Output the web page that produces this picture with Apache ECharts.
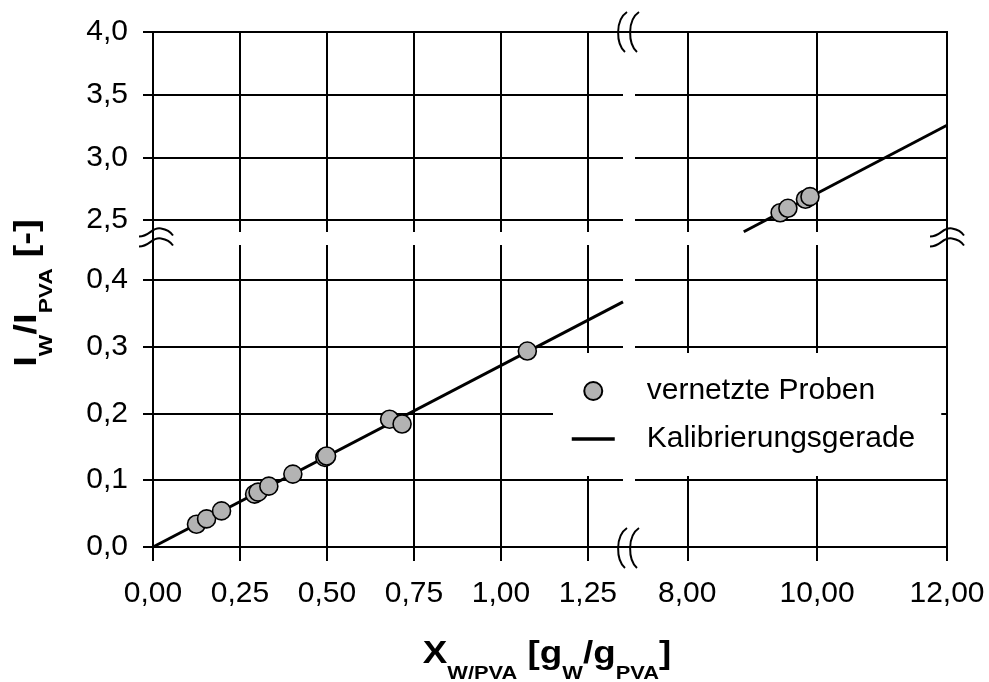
<!DOCTYPE html>
<html>
<head>
<meta charset="utf-8">
<script src="https://cdn.jsdelivr.net/npm/echarts@6/dist/echarts.min.js"></script>
<style>
  html, body { margin: 0; padding: 0; background: #fff; }
  #chart { width: 989px; height: 682px; }
</style>
</head>
<body>
<div id="chart"></div>
<script>
// Messwerte der vernetzten Proben (niedriger und hoher Wassergehalt)
const probenX_niedrig = [0.125, 0.154, 0.197, 0.292, 0.302, 0.333, 0.402, 0.494, 0.499, 0.680, 0.716, 1.076];
const probenY_niedrig = [0.034, 0.042, 0.054, 0.079, 0.082, 0.091, 0.109, 0.134, 0.136, 0.191, 0.184, 0.293];
const probenX_hoch = [9.43, 9.55, 9.82, 9.89];
const probenY_hoch = [2.558, 2.593, 2.665, 2.686];

// Kalibrierungsgerade, Endpunkte im jeweiligen Achsenabschnitt
const geradeX_niedrig = [0, 1.351];
const geradeY_niedrig = [0, 0.3665];
const geradeX_hoch = [8.87, 12];
const geradeY_hoch = [2.406, 3.256];

// Achsenabschnitte und Teilstriche
const xBereich_niedrig = [0, 1.351];
const xBereich_hoch = [7.195, 12];
const yBereich_niedrig = [0, 0.4516];
const yBereich_hoch = [2.404, 4.0];
const xTicks_niedrig = [0, 0.25, 0.5, 0.75, 1.0, 1.25];
const xTicks_hoch = [8, 10, 12];
const yTicks_niedrig = [0, 0.1, 0.2, 0.3, 0.4];
const yTicks_hoch = [2.5, 3.0, 3.5, 4.0];

// Layout (Pixel)
const L = 153, R = 947, T = 32, B = 547;
const XG0 = 623, XG1 = 635;   // Lücke der x-Achsenunterbrechung
const YG0 = 232, YG1 = 245;   // Lücke der y-Achsenunterbrechung
const FONT = "'Liberation Sans', Arial, Helvetica, sans-serif";

const komma = (d) => (v) => v.toFixed(d).replace('.', ',');

function achse(gridIndex, bereich, ticks, opts) {
  const step = ticks[1] - ticks[0];
  return {
    type: 'value',
    gridIndex: gridIndex,
    min: bereich[0],
    max: bereich[1],
    minInterval: step,
    maxInterval: step,
    position: opts.position,
    axisLine: { show: false },
    axisTick: {
      show: true, inside: false,
      length: opts.labels ? opts.tickLen : 0,
      customValues: ticks,
      lineStyle: { color: '#000', width: 2, opacity: opts.labels ? 1 : 0 }
    },
    axisLabel: opts.labels ? {
      show: true,
      customValues: ticks,
      margin: opts.margin,
      fontSize: 30,
      fontFamily: FONT,
      color: '#000',
      formatter: komma(opts.dec)
    } : { show: false },
    splitLine: {
      show: true,
      lineStyle: { color: '#000', width: 2 }
    }
  };
}

const paare = (xs, ys) => xs.map((x, i) => [x, ys[i]]);

const chart = echarts.init(document.getElementById('chart'), null, { renderer: 'canvas' });

// Bruchzeichen an den Achsenunterbrechungen
function bruchVertikal(cx, cy) {
  return [-6, 6].map((dx) => ({
    type: 'bezierCurve',
    shape: { x1: cx + dx + 4, y1: cy - 20, cpx1: cx + dx - 8, cpy1: cy - 12, cpx2: cx + dx - 7, cpy2: cy + 12, x2: cx + dx + 2, y2: cy + 20 },
    style: { stroke: '#000', lineWidth: 2, fill: null },
    z: 10
  }));
}
function bruchHorizontal(cx, cy) {
  return [-5, 5].map((dy) => ({
    type: 'bezierCurve',
    shape: { x1: cx - 17, y1: cy + dy + 3, cpx1: cx - 6, cpy1: cy + dy + 3, cpx2: cx - 4, cpy2: cy + dy - 7, x2: cx + 5, y2: cy + dy - 5 },
    style: { stroke: '#000', lineWidth: 2, fill: null },
    z: 10
  })).concat([-5, 5].map((dy) => ({
    type: 'bezierCurve',
    shape: { x1: cx + 5, y1: cy + dy - 5, cpx1: cx + 11, cpy1: cy + dy - 4, cpx2: cx + 15, cpy2: cy + dy - 1, x2: cx + 17, y2: cy + dy + 2 },
    style: { stroke: '#000', lineWidth: 2, fill: null },
    z: 10
  })));
}

const titelRich = {
  b: { fontSize: 32, fontWeight: 'bold', fontFamily: FONT, lineHeight: 36, verticalAlign: 'top', color: '#000' },
  s: { fontSize: 19, fontWeight: 'bold', fontFamily: FONT, lineHeight: 20, verticalAlign: 'top', padding: [26, 0, 0, 0], color: '#000' }
};

const option = {
  backgroundColor: '#fff',
  animation: false,
  grid: [
    { left: L, top: T, width: XG0 - L, height: YG0 - T },
    { left: XG1, top: T, width: R - XG1, height: YG0 - T },
    { left: L, top: YG1, width: XG0 - L, height: B - YG1 },
    { left: XG1, top: YG1, width: R - XG1, height: B - YG1 }
  ],
  xAxis: [
    achse(0, xBereich_niedrig, xTicks_niedrig, { position: 'bottom', labels: false }),
    achse(1, xBereich_hoch, xTicks_hoch, { position: 'bottom', labels: false }),
    achse(2, xBereich_niedrig, xTicks_niedrig, { position: 'bottom', labels: true, tickLen: 14, margin: 32, dec: 2 }),
    achse(3, xBereich_hoch, xTicks_hoch, { position: 'bottom', labels: true, tickLen: 14, margin: 32, dec: 2 })
  ],
  yAxis: [
    achse(0, yBereich_hoch, yTicks_hoch, { position: 'left', labels: true, tickLen: 10, margin: 25, dec: 1 }),
    achse(1, yBereich_hoch, yTicks_hoch, { position: 'right', labels: false }),
    achse(2, yBereich_niedrig, yTicks_niedrig, { position: 'left', labels: true, tickLen: 10, margin: 25, dec: 1 }),
    achse(3, yBereich_niedrig, yTicks_niedrig, { position: 'right', labels: false })
  ],
  legend: {
    orient: 'vertical',
    left: 553,
    top: 353,
    backgroundColor: '#fff',
    padding: [23, 26, 22, 17],
    itemWidth: 43,
    itemHeight: 18,
    itemGap: 18,
    selectedMode: false,
    z: 8,
    textStyle: { fontSize: 30, fontFamily: FONT, color: '#000', lineHeight: 30, padding: [0, 0, 0, 27] },
    data: [
      { name: 'vernetzte Proben', icon: 'circle' },
      { name: 'Kalibrierungsgerade', itemStyle: { opacity: 0 }, lineStyle: { color: '#000', width: 3.5, opacity: 1 } }
    ]
  },
  series: [
    {
      name: 'Kalibrierungsgerade', type: 'line', xAxisIndex: 2, yAxisIndex: 2,
      data: paare(geradeX_niedrig, geradeY_niedrig), symbol: 'none',
      lineStyle: { color: '#000', width: 3 }, itemStyle: { color: 'rgba(0,0,0,0)', borderWidth: 0 }, z: 3
    },
    {
      name: 'Kalibrierungsgerade', type: 'line', xAxisIndex: 1, yAxisIndex: 1,
      data: paare(geradeX_hoch, geradeY_hoch), symbol: 'none',
      lineStyle: { color: '#000', width: 3 }, itemStyle: { color: 'rgba(0,0,0,0)', borderWidth: 0 }, z: 3
    },
    {
      name: 'vernetzte Proben', type: 'scatter', xAxisIndex: 2, yAxisIndex: 2,
      data: paare(probenX_niedrig, probenY_niedrig), symbol: 'circle', symbolSize: 18,
      itemStyle: { color: '#b3b3b3', borderColor: '#000', borderWidth: 1.6, opacity: 1 }, z: 4
    },
    {
      name: 'vernetzte Proben', type: 'scatter', xAxisIndex: 1, yAxisIndex: 1,
      data: paare(probenX_hoch, probenY_hoch), symbol: 'circle', symbolSize: 18,
      itemStyle: { color: '#b3b3b3', borderColor: '#000', borderWidth: 1.6, opacity: 1 }, z: 4
    }
  ],
  graphic: [
    {
      type: 'rect',
      shape: { x: L, y: T, width: R - L, height: B - T },
      style: { stroke: '#000', lineWidth: 2, fill: null },
      z: 9
    },
    ...bruchVertikal((XG0 + XG1) / 2, T),
    ...bruchVertikal((XG0 + XG1) / 2, B + 1),
    ...bruchHorizontal(L + 3, (YG0 + YG1) / 2),
    ...bruchHorizontal(R, (YG0 + YG1) / 2),
    {
      type: 'text',
      x: (L + R) / 2 - 3,
      y: 656,
      scaleX: 1.15,
      style: {
        text: '{b|X}{s|W/PVA}{b| [g}{s|W}{b|/g}{s|PVA}{b|]}',
        rich: titelRich,
        align: 'center',
        verticalAlign: 'middle'
      },
      z: 10
    },
    {
      type: 'text',
      x: 29,
      y: 293,
      rotation: Math.PI / 2,
      scaleX: 1.2,
      style: {
        text: '{b|I}{s|W}{b|/I}{s|PVA}{b| [-]}',
        rich: titelRich,
        align: 'center',
        verticalAlign: 'middle'
      },
      z: 10
    }
  ]
};

chart.setOption(option);
</script>
</body>
</html>
